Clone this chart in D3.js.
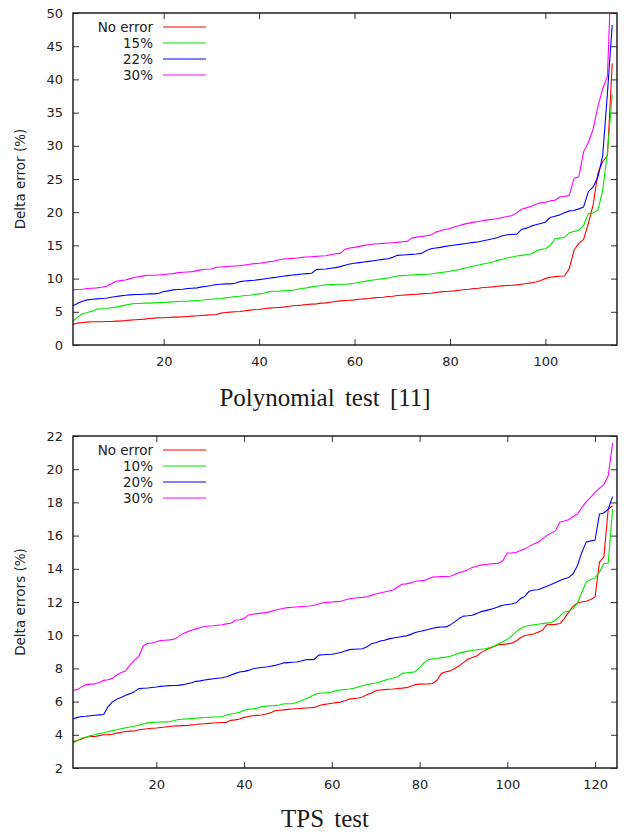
<!DOCTYPE html>
<html>
<head>
<meta charset="utf-8">
<script src="https://cdn.jsdelivr.net/npm/d3@7"></script>
<style>
  body { margin: 0; background: #fff; }
  svg text { fill: #222; }
</style>
</head>
<body>
<div id="chart"></div>
<script>
// ---- data: sorted delta errors, one value per test case (x = rank 1..n)
const polyLabels = ['No error', '15%', '22%', '30%'];
const polyNoError = [3.1,3.3,3.4,3.45,3.5,3.5,3.5,3.55,3.55,3.6,3.6,3.7,3.75,3.8,3.85,3.9,4.0,4.05,4.1,4.1,
  4.15,4.2,4.2,4.25,4.3,4.35,4.4,4.45,4.5,4.55,4.6,4.8,4.9,4.95,5.0,5.05,5.15,5.25,5.3,5.35,
  5.45,5.55,5.6,5.65,5.7,5.8,5.9,5.95,6.0,6.1,6.15,6.2,6.3,6.35,6.45,6.55,6.65,6.7,6.75,6.8,
  6.9,6.95,7.0,7.1,7.15,7.2,7.3,7.35,7.45,7.5,7.55,7.6,7.65,7.7,7.75,7.8,7.9,8.0,8.05,8.1,
  8.15,8.25,8.35,8.4,8.5,8.55,8.65,8.7,8.75,8.85,8.9,8.95,9.0,9.05,9.15,9.25,9.35,9.5,9.7,10.0,
  10.2,10.3,10.35,10.4,11.5,14.3,15.3,15.9,18.3,21.1,25.9,27.6,28.5,42.4];
const poly15 = [3.6,4.2,4.7,4.9,5.1,5.4,5.45,5.5,5.6,5.7,5.85,6.0,6.15,6.25,6.25,6.3,6.3,6.35,6.4,6.4,
  6.45,6.5,6.55,6.6,6.6,6.65,6.7,6.75,6.85,6.9,6.95,7.0,7.1,7.2,7.3,7.35,7.45,7.5,7.6,7.7,
  7.8,8.0,8.1,8.1,8.15,8.2,8.25,8.4,8.5,8.6,8.75,8.85,8.95,9.05,9.1,9.1,9.15,9.15,9.2,9.3,
  9.45,9.55,9.7,9.8,9.9,10.0,10.1,10.25,10.4,10.45,10.5,10.55,10.6,10.6,10.65,10.7,10.8,10.9,11.0,11.1,
  11.25,11.35,11.55,11.75,11.9,12.05,12.2,12.35,12.5,12.75,12.9,13.1,13.25,13.4,13.5,13.6,13.7,14.1,14.4,14.5,
  15.0,16.0,16.1,16.2,16.9,17.1,17.3,18.0,19.8,19.9,20.3,23.3,29.0,37.7];
const poly22 = [5.9,6.3,6.6,6.8,6.9,6.95,7.0,7.05,7.2,7.3,7.4,7.5,7.55,7.6,7.6,7.65,7.7,7.7,7.8,8.05,
  8.15,8.3,8.35,8.4,8.5,8.55,8.6,8.75,8.85,8.95,9.1,9.15,9.2,9.2,9.3,9.55,9.65,9.7,9.75,9.85,
  9.95,10.05,10.15,10.25,10.35,10.45,10.55,10.6,10.7,10.75,10.8,11.35,11.4,11.45,11.55,11.65,11.8,12.0,12.2,12.3,
  12.4,12.5,12.6,12.7,12.8,12.9,13.0,13.2,13.5,13.55,13.6,13.65,13.7,13.8,14.2,14.5,14.6,14.7,14.85,14.95,
  15.05,15.15,15.25,15.35,15.45,15.55,15.7,15.85,16.0,16.2,16.45,16.6,16.65,16.7,17.4,17.6,17.9,18.1,18.3,18.5,
  19.2,19.4,19.6,19.9,20.2,20.25,20.5,20.8,23.1,23.8,25.3,28.5,38.0,48.2];
const poly30 = [8.3,8.35,8.4,8.5,8.55,8.6,8.7,8.85,9.2,9.6,9.7,9.8,10.0,10.2,10.3,10.45,10.5,10.5,10.55,10.6,
  10.7,10.75,10.9,10.95,11.0,11.05,11.2,11.35,11.4,11.45,11.7,11.75,11.8,11.85,11.9,11.95,12.05,12.15,12.25,12.3,
  12.4,12.55,12.6,12.8,12.95,13.0,13.05,13.1,13.2,13.25,13.3,13.35,13.4,13.45,13.6,13.75,13.8,14.4,14.6,14.7,
  14.85,15.0,15.1,15.2,15.25,15.3,15.35,15.4,15.45,15.55,15.6,16.1,16.25,16.35,16.45,16.55,17.0,17.2,17.4,17.55,
  17.8,18.0,18.2,18.35,18.5,18.6,18.75,18.85,18.95,19.05,19.2,19.35,19.5,19.9,20.45,20.65,20.9,21.2,21.4,21.5,
  21.7,21.8,22.3,22.4,22.5,25.1,25.3,29.1,30.5,32.5,35.9,38.6,40.5,60.0];

const tpsLabels = ['No error', '10%', '20%', '30%'];
const tpsNoError = [3.6,3.65,3.75,3.85,3.9,3.9,3.95,4.0,4.0,4.03,4.1,4.15,4.2,4.22,4.23,4.3,4.33,4.36,4.39,4.41,
  4.44,4.47,4.5,4.53,4.54,4.55,4.56,4.6,4.62,4.65,4.67,4.69,4.71,4.73,4.74,4.75,4.87,4.9,4.95,5.05,
  5.1,5.15,5.17,5.19,5.25,5.32,5.45,5.48,5.5,5.53,5.55,5.57,5.59,5.61,5.63,5.65,5.75,5.82,5.86,5.9,
  5.94,5.97,6.05,6.15,6.18,6.22,6.28,6.42,6.5,6.65,6.7,6.72,6.74,6.76,6.79,6.81,6.84,6.92,7.02,7.05,
  7.06,7.07,7.09,7.3,7.7,7.8,7.85,8.0,8.15,8.35,8.55,8.65,8.75,8.95,9.1,9.22,9.32,9.42,9.45,9.48,
  9.52,9.65,9.85,9.98,10.03,10.07,10.18,10.3,10.62,10.64,10.65,10.7,11.0,11.4,11.75,11.95,12.0,12.05,12.15,12.3,
  14.4,14.7,17.6,17.8];
const tps10 = [3.5,3.65,3.8,3.87,3.95,4.0,4.07,4.12,4.18,4.25,4.3,4.36,4.42,4.47,4.52,4.58,4.65,4.72,4.75,4.76,
  4.77,4.78,4.79,4.85,4.92,4.94,4.96,4.98,5.0,5.02,5.04,5.06,5.07,5.08,5.1,5.18,5.25,5.3,5.36,5.48,
  5.53,5.57,5.6,5.7,5.73,5.75,5.76,5.8,5.86,5.87,5.88,5.95,6.05,6.15,6.28,6.42,6.5,6.52,6.54,6.58,
  6.66,6.7,6.73,6.76,6.8,6.88,6.96,7.02,7.08,7.12,7.18,7.28,7.36,7.42,7.5,7.7,7.74,7.76,7.8,8.05,
  8.35,8.53,8.58,8.6,8.65,8.68,8.73,8.82,8.92,8.98,9.04,9.08,9.12,9.15,9.18,9.25,9.35,9.48,9.6,9.75,
  9.95,10.2,10.4,10.52,10.58,10.62,10.66,10.7,10.73,10.76,10.9,11.15,11.4,11.45,11.6,11.95,12.6,13.2,13.35,13.45,
  13.8,14.3,14.35,17.6];
const tps20 = [4.95,5.05,5.1,5.12,5.15,5.18,5.2,5.22,5.7,5.98,6.15,6.25,6.38,6.48,6.6,6.78,6.8,6.82,6.85,6.88,
  6.92,6.94,6.96,6.97,6.98,7.02,7.08,7.14,7.22,7.25,7.3,7.34,7.38,7.41,7.44,7.5,7.6,7.7,7.78,7.82,
  7.88,7.98,8.02,8.05,8.08,8.13,8.18,8.25,8.33,8.35,8.37,8.39,8.45,8.52,8.53,8.54,8.8,8.82,8.84,8.85,
  8.9,8.96,9.05,9.13,9.15,9.17,9.18,9.3,9.48,9.55,9.65,9.7,9.78,9.83,9.88,9.92,9.96,10.05,10.16,10.22,
  10.28,10.34,10.42,10.47,10.49,10.5,10.62,10.8,11.0,11.15,11.17,11.2,11.3,11.42,11.48,11.54,11.62,11.72,11.8,11.85,
  11.88,11.95,12.2,12.35,12.65,12.72,12.74,12.85,12.95,13.05,13.18,13.3,13.4,13.48,13.7,14.2,15.0,15.62,15.68,15.72,
  17.3,17.36,17.6,18.35];
const tps30 = [6.68,6.72,6.9,7.02,7.05,7.07,7.15,7.28,7.32,7.4,7.6,7.75,7.85,8.2,8.5,8.72,9.35,9.5,9.53,9.6,
  9.68,9.7,9.72,9.75,9.9,10.08,10.2,10.3,10.38,10.45,10.52,10.55,10.57,10.6,10.63,10.68,10.72,10.9,10.93,11.0,
  11.22,11.26,11.3,11.33,11.36,11.42,11.5,11.56,11.62,11.66,11.68,11.7,11.72,11.74,11.76,11.8,11.88,11.96,11.98,12.0,
  12.02,12.04,12.12,12.2,12.23,12.26,12.28,12.32,12.4,12.48,12.54,12.6,12.66,12.72,12.9,13.07,13.09,13.15,13.25,13.28,
  13.3,13.4,13.5,13.52,13.53,13.54,13.55,13.65,13.78,13.83,13.95,14.08,14.15,14.22,14.26,14.29,14.31,14.33,14.5,14.95,
  14.96,14.98,15.1,15.2,15.35,15.5,15.6,15.8,16.0,16.15,16.3,16.82,16.88,16.95,17.15,17.3,17.7,18.05,18.3,18.6,
  18.85,19.07,19.6,21.58];

const polyXTicks = [20, 40, 60, 80, 100];
const polyYTicks = [0, 5, 10, 15, 20, 25, 30, 35, 40, 45, 50];
const tpsXTicks = [20, 40, 60, 80, 100, 120];
const tpsYTicks = [2, 4, 6, 8, 10, 12, 14, 16, 18, 20, 22];

const colors = ['#ff0000', '#00e800', '#0000ff', '#ff00ff'];
const tickFont = '"DejaVu Sans", Verdana, sans-serif';

const W = 628, H = 834;
const svg = d3.select('#chart').append('svg')
  .attr('width', W).attr('height', H)
  .attr('viewBox', `0 0 ${W} ${H}`);

drawPanel({
  id: 'poly', top: 13, bottom: 345,
  xDomain: [1, 115], yDomain: [0, 50],
  xTicks: polyXTicks, yTicks: polyYTicks,
  series: [polyNoError, poly15, poly22, poly30], labels: polyLabels,
  yLabel: 'Delta error (%)', title: 'Polynomial test [11]', titleY: 406
});

drawPanel({
  id: 'tps', top: 436, bottom: 768,
  xDomain: [1, 125], yDomain: [2, 22],
  xTicks: tpsXTicks, yTicks: tpsYTicks,
  series: [tpsNoError, tps10, tps20, tps30], labels: tpsLabels,
  yLabel: 'Delta errors (%)', title: 'TPS test', titleY: 827
});

function drawPanel(cfg) {
  const left = 73, right = 617;
  const x = d3.scaleLinear().domain(cfg.xDomain).range([left, right]);
  const y = d3.scaleLinear().domain(cfg.yDomain).range([cfg.bottom, cfg.top]);
  const g = svg.append('g').attr('class', cfg.id);

  // axes, gnuplot style: ticks pointing inward, mirrored on top/right
  g.append('g').attr('transform', `translate(0,${cfg.bottom})`)
    .call(d3.axisBottom(x).tickValues(cfg.xTicks).tickSize(-6).tickPadding(12).tickFormat(d3.format('d')));
  g.append('g').attr('transform', `translate(0,${cfg.top})`)
    .call(d3.axisTop(x).tickValues(cfg.xTicks).tickSize(-6).tickFormat(''));
  g.append('g').attr('transform', `translate(${left},0)`)
    .call(d3.axisLeft(y).tickValues(cfg.yTicks).tickSize(-6).tickPadding(10).tickFormat(d3.format('d')));
  g.append('g').attr('transform', `translate(${right},0)`)
    .call(d3.axisRight(y).tickValues(cfg.yTicks).tickSize(-6).tickFormat(''));

  g.selectAll('.domain').remove();
  g.selectAll('.tick line').attr('stroke', '#333').attr('stroke-width', 1);
  g.selectAll('.tick text').attr('font-family', tickFont).attr('font-size', 13).style('fill', '#222');

  // lines
  const clipId = 'clip-' + cfg.id;
  g.append('clipPath').attr('id', clipId)
    .append('rect').attr('x', left).attr('y', cfg.top)
    .attr('width', right - left).attr('height', cfg.bottom - cfg.top);

  const line = d3.line()
    .x((d, i) => x(i + 1))
    .y(d => y(d));

  g.append('g').attr('clip-path', `url(#${clipId})`)
    .selectAll('path').data(cfg.series).join('path')
    .attr('d', line)
    .attr('fill', 'none')
    .attr('stroke', (d, i) => colors[i])
    .attr('stroke-width', 1.1)
    .attr('stroke-linejoin', 'round');

  // border
  g.append('rect')
    .attr('x', left).attr('y', cfg.top)
    .attr('width', right - left).attr('height', cfg.bottom - cfg.top)
    .attr('fill', 'none').attr('stroke', '#222').attr('stroke-width', 1.5);

  // legend (top-left, inside)
  const leg = g.append('g');
  cfg.labels.forEach((lab, i) => {
    const ly = cfg.top + 14 + i * 16;
    leg.append('text')
      .attr('x', 153).attr('y', ly).attr('dy', '0.35em')
      .attr('text-anchor', 'end')
      .attr('font-family', tickFont).attr('font-size', 13.5)
      .text(lab);
    leg.append('line')
      .attr('x1', 163).attr('x2', 206).attr('y1', ly).attr('y2', ly)
      .attr('stroke', colors[i]).attr('stroke-width', 1.1);
  });

  // y axis label
  const cy = (cfg.top + cfg.bottom) / 2;
  g.append('text')
    .attr('transform', `translate(20,${cy}) rotate(-90)`)
    .attr('text-anchor', 'middle').attr('dy', '0.35em')
    .attr('font-family', tickFont).attr('font-size', 13.5)
    .text(cfg.yLabel);

  // caption under the plot
  g.append('text')
    .attr('x', 325).attr('y', cfg.titleY)
    .attr('text-anchor', 'middle')
    .attr('font-family', '"Liberation Serif", "Times New Roman", serif')
    .attr('font-size', 25)
    .attr('word-spacing', 4)
    .style('fill', '#1a1a1a')
    .text(cfg.title);
}
</script>
</body>
</html>
